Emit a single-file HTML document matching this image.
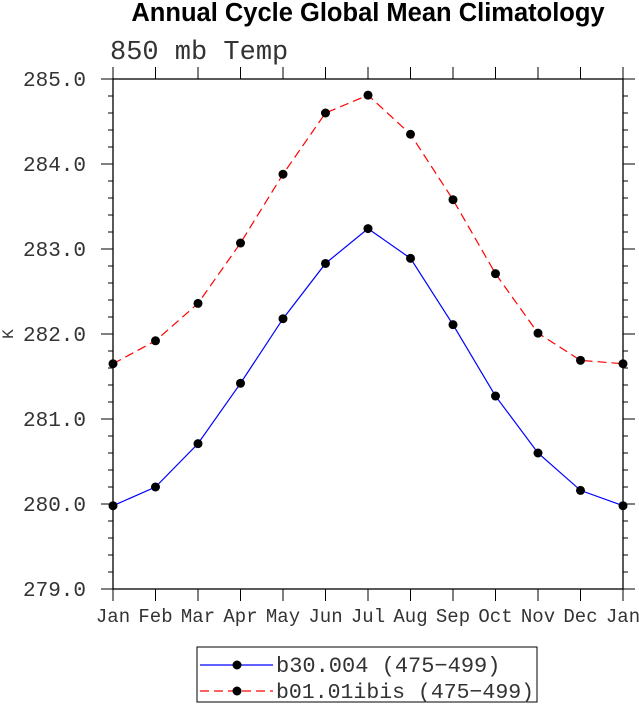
<!DOCTYPE html>
<html><head><meta charset="utf-8"><style>
body{margin:0;background:#fff}
svg{display:block}
.t{font-family:"Liberation Mono",monospace;font-size:19px;fill:#333}
</style></head><body>
<svg id="c" width="639" height="716">
<text x="368" y="21" text-anchor="middle" font-family="Liberation Sans, sans-serif" font-weight="bold" font-size="25.5">Annual Cycle Global Mean Climatology</text>
<text x="110" y="59" class="t" style="font-size:27px">850 mb Temp</text>
<text x="13" y="334" class="t" transform="rotate(-90 13 334)" text-anchor="middle" style="font-size:16px">K</text>
<g id="g"></g>
<rect x="197" y="647" width="340" height="55" fill="none" stroke="#000" stroke-width="1"/>
<g>
<line x1="200" y1="665" x2="273" y2="665" stroke="#00f" stroke-width="1.2"/>
<circle cx="237" cy="665" r="4.5" fill="#000"/>
<text x="276" y="672" class="t" style="font-size:22px">b30.004 (475−499)</text></g>
<g>
<line x1="200" y1="691" x2="273" y2="691" stroke="#f00" stroke-width="1.2" stroke-dasharray="9,5"/>
<circle cx="237" cy="691" r="4.5" fill="#000"/>
<text x="276" y="698" class="t" style="font-size:21.5px">b01.01ibis (475−499)</text></g>
</svg>
<script>
const months=["Jan","Feb","Mar","Apr","May","Jun","Jul","Aug","Sep","Oct","Nov","Dec","Jan"];
const blueVals=[279.98,280.20,280.71,281.42,282.18,282.83,283.24,282.89,282.11,281.27,280.60,280.16,279.98];
const redVals=[281.65,281.92,282.36,283.07,283.88,284.60,284.81,284.35,283.58,282.71,282.01,281.69,281.65];
const yTicks=[279,280,281,282,283,284,285];
const NS="http://www.w3.org/2000/svg";
const L=113,R=623,T=79,B=589,ymin=279,ymax=285;
const xs=i=>L+(R-L)*i/(months.length-1);
const ys=v=>B-(v-ymin)/(ymax-ymin)*(B-T);
const g=document.getElementById('g');
function mk(tag,a){const e=document.createElementNS(NS,tag);for(const k in a)e.setAttribute(k,a[k]);g.appendChild(e);return e;}
let f=mk('rect',{x:L,y:T,width:R-L,height:B-T,fill:'none',stroke:'#000','stroke-width':1.3});


months.forEach((m,i)=>{const x=xs(i);
 mk('line',{x1:x,y1:B,x2:x,y2:B+12,stroke:'#000'});
 mk('line',{x1:x,y1:T,x2:x,y2:T-12,stroke:'#000'});
 const t=mk('text',{x:x,y:B+33,'text-anchor':'middle',class:'t'});t.textContent=m;
 
 
});
for(let v=ymin;v<=ymax+1e-9;v+=0.2){const y=ys(v);const maj=Math.abs(v-Math.round(v))<1e-6;const l=maj?12:5;
 mk('line',{x1:L-l,y1:y,x2:L,y2:y,stroke:'#000'});
 mk('line',{x1:R,y1:y,x2:R+l,y2:y,stroke:'#000'});}
yTicks.forEach(v=>{const t=mk('text',{x:L-27,y:ys(v)+7,'text-anchor':'end',class:'t'});t.textContent=v.toFixed(1);
 t.style.fontSize='21px';
 
 });
function series(vals,color,dash,name){
 const p=mk('polyline',{points:vals.map((v,i)=>xs(i)+','+ys(v)).join(' '),fill:'none',stroke:color,'stroke-width':1.2,'stroke-dasharray':dash});
 
 
 vals.forEach((v,i)=>{const c=mk('circle',{cx:xs(i),cy:ys(v),r:4.5,fill:'#000'});
  
  });
}
series(redVals,'#f00','9,5','b01-series');
series(blueVals,'#00f','none','b30-series');
</script>
</body></html>
